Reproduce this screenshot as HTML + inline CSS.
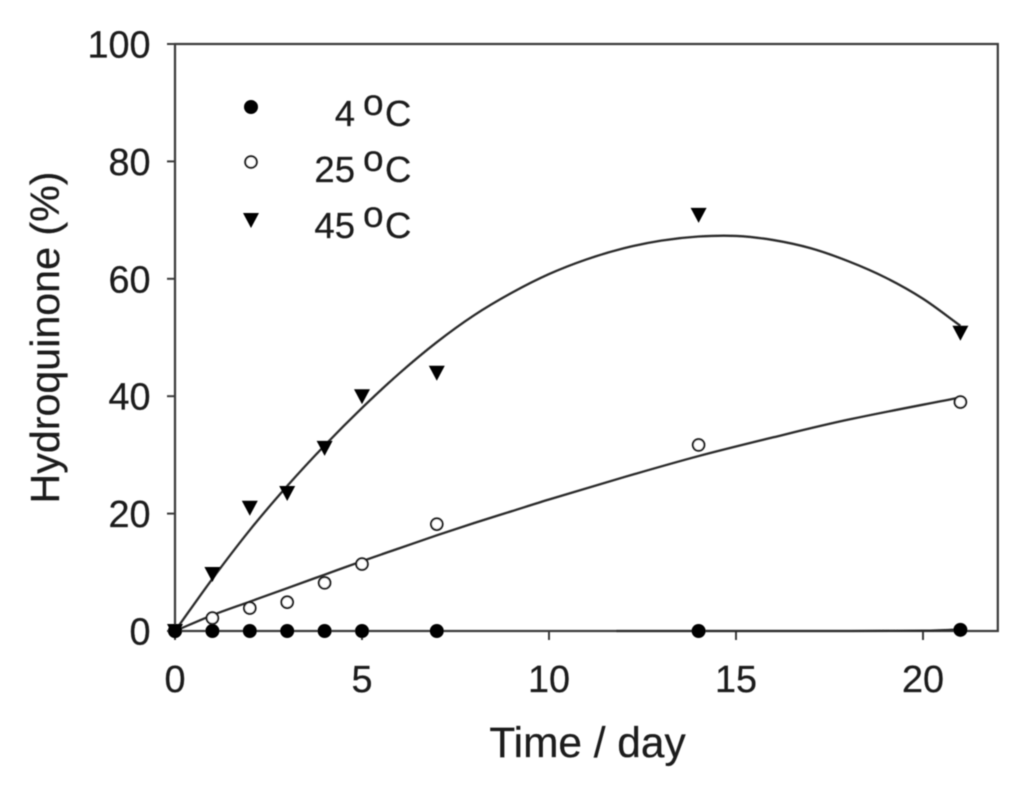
<!DOCTYPE html>
<html>
<head>
<meta charset="utf-8">
<style>
html,body{margin:0;padding:0;background:#fff;}
svg{display:block;}
text{font-family:"Liberation Sans",Arial,sans-serif;fill:#1c1c1c;stroke:#1c1c1c;stroke-width:0.25;}
</style>
</head>
<body>
<svg id="chart" width="1024" height="786" viewBox="0 0 1024 786" xmlns="http://www.w3.org/2000/svg">
<rect width="1024" height="786" fill="#ffffff"/>
<g id="plot" filter="url(#soft)"></g>
<defs><filter id="soft" x="-5%" y="-5%" width="110%" height="110%"><feGaussianBlur stdDeviation="0.6"/></filter></defs>
</svg>
<script>
var days = [0, 1, 2, 3, 4, 5, 7, 14, 21];
var values4C = [0, 0, 0, 0, 0, 0, 0, 0, 0.2];
var values25C = [0, 2.2, 3.9, 4.9, 8.2, 11.4, 18.2, 31.7, 39];
var values45C = [0, 9.7, 21, 23.5, 31.2, 40, 44, 70.9, 50.8];
var curveDays4C = [11.8, 14, 17, 20, 21];
var curveValues4C = [0, 0, 0, 0.05, 0.25];
var curveDays25C = [0, 1, 2, 3, 4, 5, 6, 7, 8, 9, 10, 12, 14, 16, 18, 21];
var curveValues25C = [0, 2.7, 5, 7.3, 9.6, 11.9, 14.1, 16.3, 18.4, 20.4, 22.4, 26.2, 29.8, 33, 36, 39.8];
var curveDays45C = [0, 1, 2, 3, 4, 5, 6, 7, 8, 9, 10, 11, 12, 13, 14, 15, 16, 17, 18, 19, 20, 21];
var curveValues45C = [0, 8.9, 17.2, 24.7, 31.6, 38, 43.9, 49.2, 53.8, 57.6, 60.8, 63.3, 65.2, 66.5, 67.2, 67.3, 66.6, 65.2, 63, 60.2, 56.6, 52];
var xTicks = [0, 5, 10, 15, 20];
var yTicks = [0, 20, 40, 60, 80, 100];
var legendLabels = ["4", "25", "45"];

var NS = "http://www.w3.org/2000/svg";
var plot = document.getElementById("plot");
function X(v){ return 175 + v * 37.4; }
function Y(v){ return 631 - v * 5.87; }
function make(tag, attrs, parent){
  var e = document.createElementNS(NS, tag);
  for (var k in attrs) e.setAttribute(k, attrs[k]);
  (parent || plot).appendChild(e);
  return e;
}
function smoothPath(xs, ys){
  var p = xs.map(function(d, i){ return [X(d), Y(ys[i])]; });
  var s = "M" + p[0][0] + " " + p[0][1];
  for (var i = 0; i < p.length - 1; i++){
    var a = p[Math.max(i - 1, 0)], b = p[i], c = p[i + 1], d = p[Math.min(i + 2, p.length - 1)];
    var h = c[0] - b[0];
    var m1 = (c[1] - a[1]) / ((c[0] - a[0]) || 1);
    var m2 = (d[1] - b[1]) / ((d[0] - b[0]) || 1);
    s += " C" + (b[0] + h / 3) + " " + (b[1] + m1 * h / 3) + " " + (c[0] - h / 3) + " " + (c[1] - m2 * h / 3) + " " + c[0] + " " + c[1];
  }
  return s;
}
function circleMark(cx, cy, filled, name){
  var el = make("circle", {cx: cx, cy: cy, r: filled ? 7 : 5.8, fill: filled ? "#000" : "#fff", stroke: "#1a1a1a", "stroke-width": filled ? 0 : 2});
  
  
}
function triMark(cx, cy, name){
  var el = make("polygon", {points: (cx - 8) + "," + (cy - 7) + " " + (cx + 8) + "," + (cy - 7) + " " + cx + "," + (cy + 8), fill: "#000"});
  
  
}

// frame
var frame = make("rect", {x: X(0), y: Y(100), width: X(22) - X(0), height: Y(0) - Y(100), fill: "none", stroke: "#3a3a3a", "stroke-width": 2.2});



// ticks
xTicks.forEach(function(t){
  var l = make("line", {x1: X(t), x2: X(t), y1: Y(0), y2: Y(0) + 9, stroke: "#3a3a3a", "stroke-width": 2});
  
  
  var tx = make("text", {x: X(t), y: 692, "text-anchor": "middle", "font-size": 37.8});
  tx.textContent = t;
  
  
});
yTicks.forEach(function(t){
  var l = make("line", {x1: X(0) - 8, x2: X(0), y1: Y(t), y2: Y(t), stroke: "#3a3a3a", "stroke-width": 2});
  
  
  var tx = make("text", {x: 150.5, y: Y(t) + 13.5, "text-anchor": "end", "font-size": 37.8});
  tx.textContent = t;
  
  
});

// axis titles
var xt = make("text", {x: 587.5, y: 757, "text-anchor": "middle", "font-size": 42.4});
xt.textContent = "Time / day";


var yt = make("text", {x: 0, y: 0, "text-anchor": "middle", "font-size": 41.2, transform: "translate(59 337.5) rotate(-90)"});
yt.textContent = "Hydroquinone (%)";



// fit curves
[[curveDays4C, curveValues4C, "curve-4c"], [curveDays25C, curveValues25C, "curve-25c"], [curveDays45C, curveValues45C, "curve-45c"]].forEach(function(c){
  var el = make("path", {d: smoothPath(c[0], c[1]), fill: "none", stroke: "#2c2c2c", "stroke-width": 2.3});
  
  
});

// points
days.forEach(function(d, i){
  circleMark(X(d), Y(values4C[i]), true, "point-4c");
  circleMark(X(d), Y(values25C[i]), false, "point-25c");
  triMark(X(d), Y(values45C[i]), "point-45c");
});
circleMark(X(0), Y(0), true, "point-origin");

// legend
var legendY = [107, 162, 220];
var legendBase = [126, 182, 238];
legendLabels.forEach(function(lab, i){
  if (i === 0) circleMark(251, legendY[i], true, "legend-marker-4c");
  if (i === 1) circleMark(251, legendY[i], false, "legend-marker-25c");
  if (i === 2) triMark(251, legendY[i], "legend-marker-45c");
  var n = make("text", {x: 355, y: legendBase[i], "text-anchor": "end", "font-size": 36.5});
  n.textContent = lab;
  
  
  var o = make("text", {x: 363, y: legendBase[i] - 11, "font-size": 37});
  o.textContent = "o";
  
  
  var c = make("text", {x: 385, y: legendBase[i], "font-size": 36.5});
  c.textContent = "C";
  
  
});
</script>
</body>
</html>
